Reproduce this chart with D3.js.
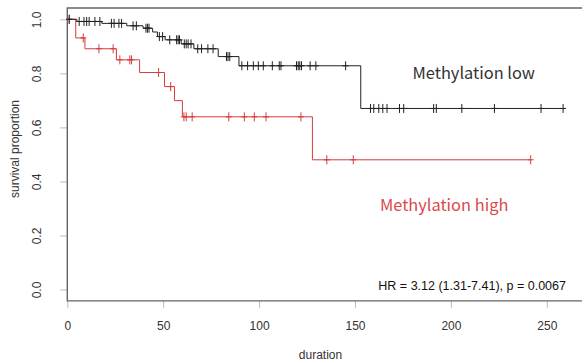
<html><head>
<script src="https://cdnjs.cloudflare.com/ajax/libs/d3/7.8.5/d3.min.js"></script>
<style>
  body { margin: 0; background: #fff; }
  svg { display: block; }
  .tick text { font-family: "Liberation Sans", Arial, sans-serif; font-size: 12px; fill: #333; }
</style>
</head>
<body>
<svg id="chart" width="582" height="362"></svg>
<script>
// Methylation low (black)
const lowStepTimes = [5, 18, 31, 39.5, 44.5, 47, 51, 59.4, 66, 78.7, 89.5, 153];
const lowStepSurv  = [0.992, 0.985, 0.976, 0.967, 0.953, 0.936, 0.924, 0.909, 0.891, 0.862, 0.828, 0.67];
const lowCensor = [1, 6.2, 8.7, 10.1, 11.4, 14.4, 17, 23, 24.4, 26.9, 28.3, 34.3, 36, 41, 41.8, 42.6,
  48, 49.7, 53.4, 57, 57.8, 58.5, 61, 62, 63, 64.5, 68, 70, 73.3, 76, 83, 83.8, 84.7,
  91, 94, 97, 99.6, 102.2, 106.9, 110.5, 111.4, 119.5, 120.4, 121.2, 122.1, 126.6, 129.6, 145.1,
  158.1, 159.8, 162.4, 164.5, 166.7, 173.2, 175.4, 191, 192.4, 205.7, 222.7, 247, 258.5];

// Methylation high (red)
const highStepTimes = [4.4, 9.2, 25.6, 37.7, 50.7, 55.9, 60.0, 127.8];
const highStepSurv  = [0.931, 0.891, 0.85, 0.803, 0.751, 0.699, 0.639, 0.48];
const highCensor = [1, 8.3, 16.5, 23.9, 27.4, 32.6, 33.5, 47.6, 53.9, 60.8, 62, 65.1,
  84.2, 92.3, 97.5, 103.6, 121.8, 135.3, 149.1, 241.6];

const xTicks = [0, 50, 100, 150, 200, 250];
const yTicks = [0, 0.2, 0.4, 0.6, 0.8, 1.0];

const svg = d3.select("#chart");
const x = d3.scaleLinear().domain([0, 250]).range([67.3, 546.8]);
const y = d3.scaleLinear().domain([0, 1]).range([289.5, 19.3]);

// step path builder
function survAt(t, times, surv) {
  let s = 1;
  for (let i = 0; i < times.length; i++) if (times[i] <= t) s = surv[i];
  return s;
}
function stepPoints(times, surv, end) {
  const pts = [[0, 1]];
  times.forEach((t, i) => pts.push([t, surv[i]]));
  pts.push([end, surv[surv.length - 1]]);
  return pts;
}
const line = d3.line().x(d => x(d[0])).y(d => y(d[1])).curve(d3.curveStepAfter);

// axes
const xAxis = svg.append("g")
  .attr("transform", `translate(0,${y(-0.042)})`)
  .call(d3.axisBottom(x).tickValues(xTicks).tickSize(7).tickFormat(d3.format("d")));
xAxis.select(".domain").remove();
xAxis.selectAll(".tick line").attr("stroke", "#bbb");
xAxis.selectAll(".tick text").attr("y", 29).attr("dy", 0);

const yAxis = svg.append("g")
  .attr("transform", `translate(${x(0)},0)`)
  .call(d3.axisLeft(y).tickValues(yTicks).tickSize(7).tickFormat(d3.format(".1f")));
yAxis.select(".domain").remove();
yAxis.selectAll(".tick line").attr("stroke", "#bbb");
yAxis.selectAll(".tick text")
  .attr("x", null).attr("dy", null)
  .attr("text-anchor", "middle")
  .attr("transform", "translate(-26,0) rotate(-90)");

// frame
svg.append("path")
  .attr("d", `M${x(270)},${y(1.042)}H${x(0)}V${y(-0.042)}H${x(270)}`)
  .attr("fill", "none").attr("stroke", "#666").attr("stroke-width", 1.4);

// axis titles
svg.append("text")
  .attr("x", x(132)).attr("y", 359)
  .attr("text-anchor", "middle")
  .style("font-family", "Liberation Sans, Arial, sans-serif").style("font-size", "12px").style("fill", "#333")
  .text("duration");
svg.append("text")
  .attr("transform", `translate(19,${y(0.52)}) rotate(-90)`)
  .attr("text-anchor", "middle")
  .style("font-family", "Liberation Sans, Arial, sans-serif").style("font-size", "12px").style("fill", "#333")
  .text("survival proportion");

function drawGroup(times, surv, censor, color) {
  const end = censor[censor.length - 1];
  svg.append("path")
    .datum(stepPoints(times, surv, end))
    .attr("d", line)
    .attr("fill", "none").attr("stroke", color).attr("stroke-width", 1);
  const g = svg.append("g").attr("stroke", color).attr("stroke-width", 1);
  censor.forEach(t => {
    const cx = x(t), cy = y(survAt(t, times, surv));
    g.append("line").attr("x1", cx).attr("x2", cx).attr("y1", cy - 4.5).attr("y2", cy + 4.5);
    g.append("line").attr("x1", cx - 3).attr("x2", cx + 3).attr("y1", cy).attr("y2", cy);
  });
}
drawGroup(highStepTimes, highStepSurv, highCensor, "#d83a3c");
drawGroup(lowStepTimes, lowStepSurv, lowCensor, "#222");

// labels
svg.append("text")
  .attr("x", x(180)).attr("y", y(0.78))
  .style("font-family", "Noto Sans CJK KR, Noto Sans, sans-serif").style("font-size", "16.4px").style("fill", "#333")
  .text("Methylation low");
svg.append("text")
  .attr("x", x(163)).attr("y", y(0.29))
  .style("font-family", "Noto Sans CJK KR, Noto Sans, sans-serif").style("font-size", "16.4px").style("fill", "#d84a4a")
  .text("Methylation high");
svg.append("text")
  .attr("x", x(260)).attr("y", y(0))
  .attr("text-anchor", "end")
  .style("font-family", "Liberation Sans, Arial, sans-serif").style("font-size", "12.5px").style("fill", "#111")
  .text("HR = 3.12 (1.31-7.41), p = 0.0067");
</script>
</body></html>
